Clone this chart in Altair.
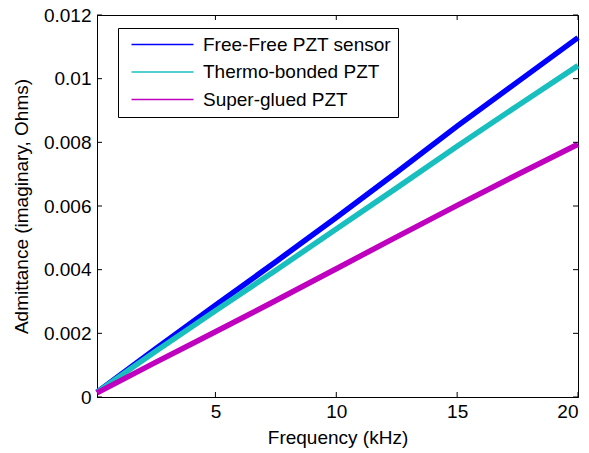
import altair as alt
import pandas as pd

freq = [0.1, 2.5, 5, 7.5, 10, 12.5, 15, 17.5, 20]
free_free = [0.00015, 0.00150, 0.00288, 0.00425, 0.00564, 0.00706, 0.00851, 0.00990, 0.01129]
thermo = [0.00015, 0.00142, 0.00271, 0.00398, 0.00528, 0.00657, 0.00788, 0.00915, 0.01041]
super_glued = [0.00013, 0.00108, 0.00205, 0.00303, 0.00403, 0.00503, 0.00602, 0.00699, 0.00794]

series_names = ["Free-Free PZT sensor", "Thermo-bonded PZT", "Super-glued PZT"]
series_colors = ["#0000FF", "#19BFBF", "#BF00BF"]

x_ticks = [5, 10, 15, 20]
y_ticks = [0, 0.002, 0.004, 0.006, 0.008, 0.01, 0.012]

rows = []
for name, vals in zip(series_names, [free_free, thermo, super_glued]):
    for f, v in zip(freq, vals):
        rows.append({"Frequency": f, "Admittance": v, "Series": name})
df = pd.DataFrame(rows)

W, H = 481, 382
FONT = "Liberation Sans"
FS = 19

xscale = alt.Scale(domain=[0.1, 20], nice=False, zero=False)
yscale = alt.Scale(domain=[0, 0.012], nice=False)

xaxis = alt.Axis(title="Frequency (kHz)", values=x_ticks, grid=False,
                 tickSize=0, labelPadding=5, titlePadding=7,
                 domainColor="black", labelColor="black", titleColor="black")
yaxis = alt.Axis(title="Admittance (imaginary, Ohms)", values=y_ticks, grid=False,
                 tickSize=0, labelPadding=6, titlePadding=12,
                 domainColor="black", labelColor="black", titleColor="black",
                 labelExpr="datum.value == 0 ? '0' : format(datum.value, '.3~f')")

sym_path = "M-4,0H4"

lines = alt.Chart(df).mark_line(strokeWidth=5.5).encode(
    x=alt.X("Frequency:Q", scale=xscale, axis=xaxis),
    y=alt.Y("Admittance:Q", scale=yscale, axis=yaxis),
    color=alt.Color("Series:N",
                    scale=alt.Scale(domain=series_names, range=series_colors),
                    legend=alt.Legend(
                        title=None, orient="none", legendX=21, legendY=13,
                        symbolType=sym_path, symbolSize=240, symbolStrokeWidth=1.5,
                        symbolOffset=28,
                        labelFontSize=FS, labelFont=FONT, labelColor="black",
                        labelOffset=31, rowPadding=7.5, padding=7,
                        strokeColor="black", fillColor="white", cornerRadius=0,
                        labelLimit=400,
                    )),
    order=alt.Order("Frequency:Q"),
)

ydf = pd.DataFrame({"Admittance": y_ticks})
xdf = pd.DataFrame({"Frequency": x_ticks})

tl = alt.Chart(ydf).mark_rule(color="black", strokeWidth=1).encode(
    y=alt.Y("Admittance:Q", scale=yscale, axis=yaxis), x=alt.value(0), x2=alt.value(5))
tr = alt.Chart(ydf).mark_rule(color="black", strokeWidth=1).encode(
    y=alt.Y("Admittance:Q", scale=yscale, axis=yaxis), x=alt.value(W - 5), x2=alt.value(W))
tb = alt.Chart(xdf).mark_rule(color="black", strokeWidth=1).encode(
    x=alt.X("Frequency:Q", scale=xscale, axis=xaxis), y=alt.value(H - 5), y2=alt.value(H))
tt = alt.Chart(xdf).mark_rule(color="black", strokeWidth=1).encode(
    x=alt.X("Frequency:Q", scale=xscale, axis=xaxis), y=alt.value(0), y2=alt.value(5))

chart = alt.layer(lines, tl, tr, tb, tt).properties(
    width=W, height=H,
    autosize=alt.AutoSizeParams(type="none"),
    padding={"left": 97, "top": 15, "right": 11, "bottom": 56},
    background="white",
).configure_view(stroke="black", strokeWidth=1).configure_axis(
    labelFont=FONT, titleFont=FONT, labelFontSize=FS, titleFontSize=FS,
    titleFontWeight="normal", domainWidth=1,
)

chart.save("out.html", embed_options={"renderer": "svg", "actions": False})
